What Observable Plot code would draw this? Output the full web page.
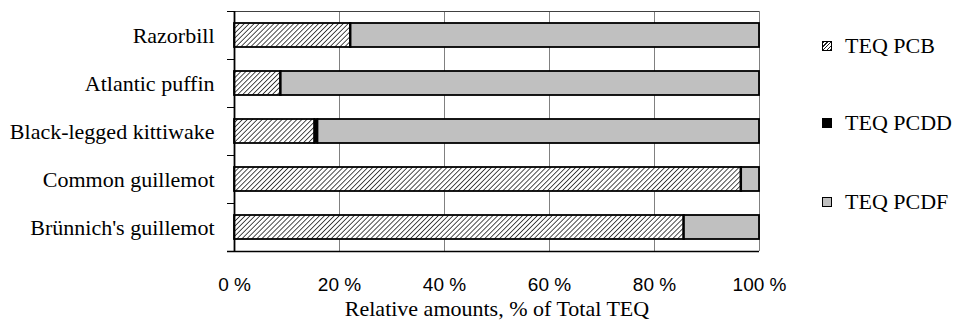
<!DOCTYPE html>
<html>
<head>
<meta charset="utf-8">
<script src="https://cdn.jsdelivr.net/npm/d3@7"></script>
<script src="https://cdn.jsdelivr.net/npm/@observablehq/plot@0.6"></script>
<style>
  html, body { margin: 0; padding: 0; background: #fff; }
  #wrap { position: relative; width: 959px; height: 321px; }
  .legend { position: absolute; left: 822px; top: 0; font-family: "Liberation Serif", serif; font-size: 22px; color: #000; }
  .item { position: absolute; left: 0; display: flex; align-items: center; white-space: nowrap; transform: translateY(-50%); }
  .sw { display: inline-block; width: 8px; height: 8px; border: 1px solid #000; margin-right: 13px; }
</style>
</head>
<body>
<div id="wrap"></div>
<script>
const birds = ["Razorbill", "Atlantic puffin", "Black-legged kittiwake", "Common guillemot", "Brünnich's guillemot"];
const series = ["TEQ PCB", "TEQ PCDD", "TEQ PCDF"];
const pcb  = [22.1, 8.8, 15.3, 96.5, 85.6];
const pcdd = [0.1, 0.1, 0.6, 0.1, 0.1];
const pcdf = [77.8, 91.1, 84.1, 3.4, 14.3];
const xTicks = [0, 20, 40, 60, 80, 100];
const xLabel = "Relative amounts, % of Total TEQ";

const seriesValues = [pcb, pcdd, pcdf];
const data = [];
birds.forEach((b, i) => series.forEach((s, j) => data.push({bird: b, series: s, value: seriesValues[j][i]})));

const fills = ["url(#hatch)", "#000000", "#c0c0c0"];
const serif = "Liberation Serif";
const sans = "Liberation Sans";

const chart = Plot.plot({
  width: 959,
  height: 321,
  marginLeft: 234,
  marginRight: 200,
  marginTop: 11,
  marginBottom: 70,
  style: {background: "#fff", fontFamily: serif},
  x: {domain: [0, 100]},
  y: {domain: birds, paddingInner: 0.5, paddingOuter: 0.25},
  color: {domain: series, range: fills},
  marks: [
    Plot.ruleX(xTicks.slice(1), {stroke: "#808080", strokeWidth: 1}),
    Plot.ruleY(birds.slice(0, 1), {y: d => d, dy: -24, x1: 0, x2: 100, stroke: "#404040", strokeWidth: 1}),
    Plot.ruleY(birds, {y: d => d, dy: -24, x1: 0, x2: 0, insetLeft: -7, stroke: "#000", strokeWidth: 1}),
    Plot.ruleY(birds.slice(-1), {y: d => d, dy: 24, x1: 0, x2: 100, insetLeft: -7, stroke: "#000", strokeWidth: 1.5}),
    Plot.barX(data, Plot.stackX({x: "value", y: "bird", fill: "series", stroke: "#000", strokeWidth: 1.8})),
    Plot.ruleX([0], {stroke: "#000", strokeWidth: 1.8}),
    Plot.axisX({ticks: xTicks, tickSize: 7, tickPadding: 19, tickFormat: d => d + " %", label: null,
      fontFamily: sans, fontSize: 19, stroke: null}),
    Plot.axisY({tickSize: 0, tickPadding: 20, label: null, fontFamily: serif, fontSize: 22}),
    Plot.text([xLabel], {frameAnchor: "bottom", text: d => d, dy: 57, lineAnchor: "middle",
      fontFamily: serif, fontSize: 22, fill: "#000"})
  ]
});

// hatch pattern definition
const svg = d3.select(chart);
const defs = svg.insert("defs", ":first-child");
const pat = defs.append("pattern")
  .attr("id", "hatch")
  .attr("patternUnits", "userSpaceOnUse")
  .attr("width", 3.5).attr("height", 3.5)
  .attr("patternTransform", "rotate(45)");
pat.append("rect").attr("width", 3.5).attr("height", 3.5).attr("fill", "#fff");
pat.append("line").attr("x1", 0).attr("y1", 0).attr("x2", 0).attr("y2", 3.5)
  .attr("stroke", "#222").attr("stroke-width", 1.6);

const wrap = document.getElementById("wrap");
wrap.appendChild(chart);

// legend
const legend = document.createElement("div");
legend.className = "legend";
const legendTops = [46, 123, 202];
const swatchBg = [
  "repeating-linear-gradient(135deg, #222 0 1px, #fff 1px 2.6px)",
  "#000",
  "#c0c0c0"
];
series.forEach((s, i) => {
  const it = document.createElement("div");
  it.className = "item";
  it.style.top = legendTops[i] + "px";
  const sw = document.createElement("span");
  sw.className = "sw";
  sw.style.background = swatchBg[i];
  it.appendChild(sw);
  it.appendChild(document.createTextNode(s));
  legend.appendChild(it);
});
wrap.appendChild(legend);
</script>
</body>
</html>
